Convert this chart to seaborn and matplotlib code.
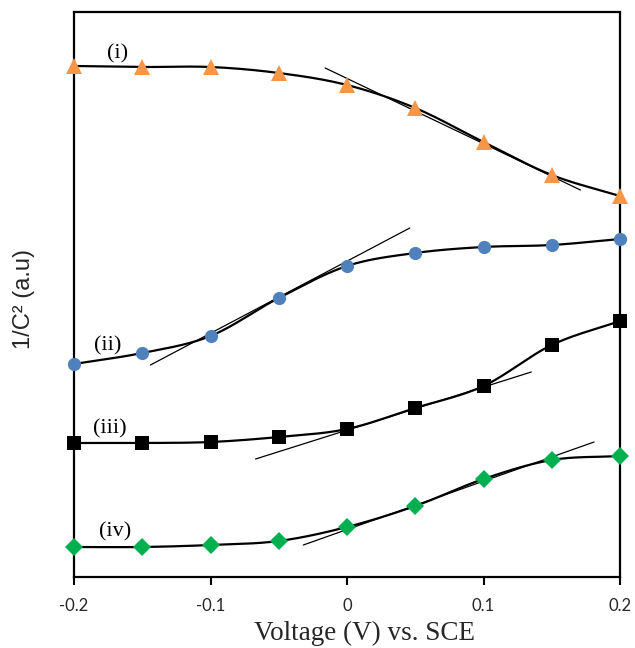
import numpy as np
import pandas as pd
import matplotlib
matplotlib.use("Agg")
import matplotlib.pyplot as plt
import seaborn as sns

# ---- data (arbitrary units) ----
voltage = [-0.20, -0.15, -0.10, -0.05, 0.00, 0.05, 0.10, 0.15, 0.20]
series_i = [511, 510, 510, 504, 492, 469, 435, 402, 381]
series_ii = [213, 224, 241, 279, 311, 324, 330, 332, 338]
series_iii = [134, 134, 135, 140, 148, 169, 191, 232, 256]
series_iv = [30, 30, 32, 36, 50, 71, 98, 117, 121]

tan_i_x = [-0.016, 0.171]
tan_i_y = [509, 387]
tan_ii_x = [-0.144, 0.046]
tan_ii_y = [212, 349]
tan_iii_x = [-0.067, 0.135]
tan_iii_y = [118, 205]
tan_iv_x = [-0.032, 0.181]
tan_iv_y = [32, 135]

labels = ["(i)", "(ii)", "(iii)", "(iv)"]
label_x = [-0.168, -0.175, -0.1736, -0.170]
label_y = [523, 231, 148, 45]

colors = ["#F79646", "#4F81BD", "#000000", "#00B050"]
markers = ["^", "o", "s", "D"]
msizes = [11, 9.5, 10, 9.5]

sns.set_theme(style="white")
plt.rcParams['font.family'] = ['Liberation Serif', 'DejaVu Serif']

fig = plt.figure(figsize=(6.35, 6.48), dpi=100)
ax = fig.add_axes([74/635, 1-577/648, (620-74)/635, (577-12)/648])


def catmull(xs, ys, n=30):
    xs = np.asarray(xs, float); ys = np.asarray(ys, float)
    P = np.column_stack([xs, ys])
    P = np.vstack([P[0] - (P[1] - P[0]), P, P[-1] + (P[-1] - P[-2])])
    out = []
    t = np.linspace(0, 1, n)[:, None]
    for k in range(1, len(P) - 2):
        p0, p1, p2, p3 = P[k-1], P[k], P[k+1], P[k+2]
        seg = 0.5 * ((2*p1) + (-p0 + p2)*t + (2*p0 - 5*p1 + 4*p2 - p3)*t**2 + (-p0 + 3*p1 - 3*p2 + p3)*t**3)
        out.append(seg if k == 1 else seg[1:])
    S = np.vstack(out)
    return S[:, 0], S[:, 1]


all_series = [series_i, series_ii, series_iii, series_iv]
tans = [(tan_i_x, tan_i_y), (tan_ii_x, tan_ii_y), (tan_iii_x, tan_iii_y), (tan_iv_x, tan_iv_y)]

for s, c, m, ms, (tx, ty) in zip(all_series, colors, markers, msizes, tans):
    sx, sy = catmull(voltage, s)
    ax.plot(sx, sy, color="black", lw=1.6, zorder=2)
    ax.plot(tx, ty, color="black", lw=0.9, zorder=2)
    df = pd.DataFrame({"V": voltage, "y": s})
    sns.lineplot(data=df, x="V", y="y", ax=ax, linestyle="none", marker=m,
                 markersize=ms, color=c, markeredgewidth=0, zorder=3, clip_on=False)

for t, lx, ly in zip(labels, label_x, label_y):
    ax.text(lx, ly, t, fontsize=16, ha="center", va="center", color="black")

ax.set_xlim(-0.2, 0.2)
ax.set_ylim(0, 565)
ax.set_xticks([-0.2, -0.1, 0, 0.1, 0.2])
ax.set_xticklabels(["-0.2", "-0.1", "0", "0.1", "0.2"], fontsize=12,
                   family=["Lato", "DejaVu Sans"])
ax.set_yticks([])
ax.set_xlabel("")
ax.set_ylabel("")
ax.tick_params(axis="x", direction="out", length=6, width=1.5, color="black", bottom=True, pad=9)
for sp in ax.spines.values():
    sp.set_visible(True)
    sp.set_color("black")
    sp.set_linewidth(1.6)

fig.text(365/635, 1-640/648, "Voltage (V) vs. SCE", fontsize=19.5, ha="center", va="baseline")
fig.text(24/635, 1-299/648, "1/C² (a.u)", fontsize=17, ha="center", va="center", rotation=90,
         family=["Liberation Sans", "DejaVu Sans"])

fig.savefig("out.png", dpi=100)
